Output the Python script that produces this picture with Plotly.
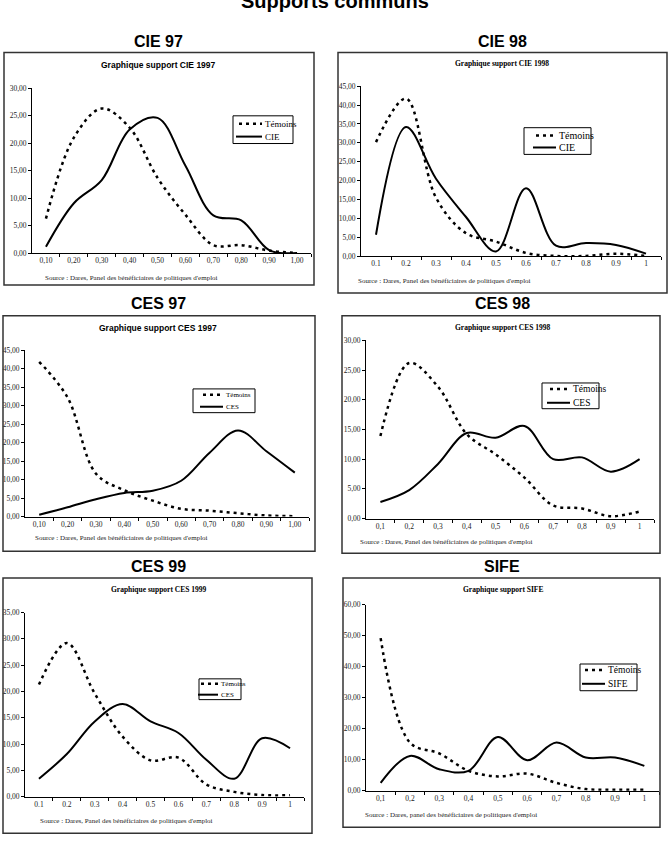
import plotly.graph_objects as go

W, H = 669, 858

# ---------------- data ----------------
categories = [0.1, 0.2, 0.3, 0.4, 0.5, 0.6, 0.7, 0.8, 0.9, 1.0]
labels_comma2 = ["0,10", "0,20", "0,30", "0,40", "0,50", "0,60", "0,70", "0,80", "0,90", "1,00"]
labels_dot1 = ["0.1", "0.2", "0.3", "0.4", "0.5", "0.6", "0.7", "0.8", "0.9", "1"]
labels_comma1 = ["0,1", "0,2", "0,3", "0,4", "0,5", "0,6", "0,7", "0,8", "0,9", "1"]

cie97_temoins = [6.3, 21.0, 26.3, 22.8, 13.7, 7.0, 1.5, 1.5, 0.5, 0.05]
cie97_cie = [1.2, 9.1, 13.3, 22.5, 24.6, 15.9, 6.9, 6.0, 0.6, 0.05]

cie98_temoins = [30.2, 41.7, 15.5, 6.1, 3.9, 0.9, 0.1, 0.1, 0.7, 0.1]
cie98_cie = [5.7, 34.2, 20.5, 10.4, 1.3, 18.0, 2.8, 3.5, 3.0, 0.7]

ces97_temoins = [41.9, 32.2, 11.6, 7.1, 4.3, 2.1, 1.6, 0.9, 0.3, 0.1]
ces97_ces = [0.5, 2.5, 4.7, 6.4, 7.0, 9.7, 17.3, 23.3, 17.7, 11.9]

ces98_temoins = [13.9, 26.2, 22.2, 14.2, 10.8, 6.9, 2.2, 1.7, 0.4, 1.2]
ces98_ces = [2.8, 4.8, 9.2, 14.4, 13.6, 15.6, 10.0, 10.3, 7.9, 10.0]

ces99_temoins = [21.3, 29.2, 19.6, 11.4, 6.9, 7.4, 2.3, 0.9, 0.3, 0.25]
ces99_ces = [3.4, 8.1, 14.3, 17.6, 14.3, 12.1, 7.0, 3.4, 11.1, 9.2]

sife_temoins = [49.2, 15.5, 12.0, 6.4, 4.6, 5.5, 2.5, 0.5, 0.3, 0.3]
sife_sife = [2.5, 11.2, 6.9, 6.4, 17.3, 9.8, 15.5, 10.7, 10.7, 8.0]

panels = [
    dict(title="CIE 97", sub="Graphique support CIE 1997", name="CIE",
         tem=cie97_temoins, prog=cie97_cie, ticks=labels_comma2, ymax=30, dy=5,
         plot=(32, 311, 85, 252), box=(4, 314, 49, 284), tpos=(158, 38),
         subpos=(158, 62), subfont=("Liberation Sans Narrow, Liberation Sans", 8.5),
         src="Source : Dares, Panel des bénéficiaires de politiques d'emploi", srcpos=(43, 277),
         leg=(233, 293, 113, 141), rows=(121, 134), samp=(239, 262), lfs=9),
    dict(title="CIE 98", sub="Graphique support CIE 1998", name="CIE",
         tem=cie98_temoins, prog=cie98_cie, ticks=labels_dot1, ymax=45, dy=5,
         plot=(361, 661, 83, 255), box=(338, 667, 49, 292), tpos=(502, 38),
         subpos=(502, 60), subfont=("Liberation Serif", 7.5),
         src="Source : Dares, Panel des bénéficiaires de politiques d'emploi", srcpos=(356, 280),
         leg=(524, 591, 125, 152), rows=(133, 145), samp=(536, 556), lfs=10),
    dict(title="CES 97", sub="Graphique support CES 1997", name="CES",
         tem=ces97_temoins, prog=ces97_ces, ticks=labels_comma2, ymax=45, dy=5,
         plot=(25, 309, 350, 518), box=(3, 315, 315, 553), tpos=(158, 303),
         subpos=(158, 327), subfont=("Liberation Sans Narrow, Liberation Sans", 8.5),
         src="Source : Dares, Panel des bénéficiaires de politiques d'emploi", srcpos=(33, 540),
         leg=(193, 255, 389, 413), rows=(395, 407), samp=(203, 223), lfs=7),
    dict(title="CES 98", sub="Graphique support CES 1998", name="CES",
         tem=ces98_temoins, prog=ces98_ces, ticks=labels_comma1, ymax=30, dy=5,
         plot=(366, 654, 340, 520), box=(342, 660, 315, 555), tpos=(502, 303),
         subpos=(502, 327), subfont=("Liberation Serif", 7.5),
         src="Source : Dares, Panel des bénéficiaires de politiques d'emploi", srcpos=(358, 544),
         leg=(542, 599, 383, 409), rows=(389, 403), samp=(550, 570), lfs=9.5),
    dict(title="CES 99", sub="Graphique support CES 1999", name="CES",
         tem=ces99_temoins, prog=ces99_ces, ticks=labels_dot1, ymax=35, dy=5,
         plot=(25, 304, 615, 801), box=(3, 312, 580, 838), tpos=(158, 568),
         subpos=(158, 592), subfont=("Liberation Serif", 7.5),
         src="Source : Dares, Panel des bénéficiaires de politiques d'emploi", srcpos=(38, 826),
         leg=(199, 241, 682, 703), rows=(687, 698), samp=(201, 218), lfs=7),
    dict(title="SIFE", sub="Graphique support SIFE", name="SIFE",
         tem=sife_temoins, prog=sife_sife, ticks=labels_comma1, ymax=60, dy=10,
         plot=(366, 659, 607, 795), box=(343, 660, 580, 832), tpos=(502, 568),
         subpos=(503, 592), subfont=("Liberation Serif", 7.5),
         src="Source : Dares, panel des bénéficiaires de politiques d'emploi", srcpos=(363, 820),
         leg=(580, 637, 667, 694), rows=(673, 687), samp=(585, 605), lfs=9.5),
]


def px(x):
    return x / W


def py(y):
    return 1 - y / H


fig = go.Figure()
shapes = []
annotations = []
layout = dict(
    width=W, height=H, autosize=False,
    margin=dict(l=0, r=0, t=0, b=0),
    paper_bgcolor="white", plot_bgcolor="white",
    separators=",.", showlegend=False,
    font=dict(family="Liberation Serif", color="black"),
)

SERIF = "Liberation Serif"
TEM_DASH = "3px,4px"

for i, p in enumerate(panels, start=1):
    xa = "x" if i == 1 else f"x{i}"
    ya = "y" if i == 1 else f"y{i}"
    x0, x1, ytop, ybot = p["plot"]
    fig.add_trace(go.Scatter(
        x=categories, y=p["tem"], mode="lines", name="Témoins",
        line=dict(color="black", width=2.5, dash=TEM_DASH, shape="spline", smoothing=1),
        xaxis=xa, yaxis=ya, hoverinfo="skip"))
    fig.add_trace(go.Scatter(
        x=categories, y=p["prog"], mode="lines", name=p["name"],
        line=dict(color="black", width=2, shape="spline", smoothing=1),
        xaxis=xa, yaxis=ya, hoverinfo="skip"))

    layout[f"xaxis{i if i > 1 else ''}"] = dict(
        domain=[px(x0), px(x1)], anchor=ya, range=[0.05, 1.05],
        tickmode="array", tickvals=categories, ticktext=p["ticks"],
        ticks="", showline=True, linecolor="black", linewidth=1,
        showgrid=False, zeroline=False, fixedrange=True,
        tickfont=dict(family=SERIF, size=7.5, color="#222"),
        minor=dict(tickmode="array", tickvals=[0.15 + 0.1 * k for k in range(10)],
                   ticks="outside", ticklen=3, tickcolor="black", tickwidth=1, showgrid=False),
    )
    layout[f"yaxis{i if i > 1 else ''}"] = dict(
        domain=[py(ybot), py(ytop)], anchor=xa, range=[0, p["ymax"]],
        tickmode="linear", tick0=0, dtick=p["dy"], tickformat=".2f",
        ticks="outside", ticklen=3, tickcolor="black",
        showline=True, linecolor="black", linewidth=1,
        showgrid=False, zeroline=False, fixedrange=True,
        tickfont=dict(family=SERIF, size=7.5, color="#222"),
    )

    # frame around the chart
    bx0, bx1, by0, by1 = p["box"]
    shapes.append(dict(type="rect", xref="paper", yref="paper",
                       x0=px(bx0), x1=px(bx1), y0=py(by1), y1=py(by0),
                       line=dict(color="#333", width=1.5)))
    # big titles
    annotations.append(dict(text=f"<b>{p['title']}</b>", xref="paper", yref="paper",
                            x=px(p["tpos"][0]), y=py(p["tpos"][1]), xanchor="center", yanchor="middle",
                            showarrow=False, font=dict(family="Liberation Sans", size=16, color="black")))
    # inner chart title
    annotations.append(dict(text=f"<b>{p['sub']}</b>", xref="paper", yref="paper",
                            x=px(p["subpos"][0]), y=py(p["subpos"][1]), xanchor="center", yanchor="middle",
                            showarrow=False, font=dict(family=p["subfont"][0], size=p["subfont"][1], color="black")))
    # source
    annotations.append(dict(text=p["src"], xref="paper", yref="paper",
                            x=px(p["srcpos"][0]), y=py(p["srcpos"][1]), xanchor="left", yanchor="middle",
                            showarrow=False, font=dict(family=SERIF, size=7, color="#222")))
    # legend box
    lx0, lx1, ly0, ly1 = p["leg"]
    shapes.append(dict(type="rect", xref="paper", yref="paper",
                       x0=px(lx0), x1=px(lx1), y0=py(ly1), y1=py(ly0),
                       line=dict(color="black", width=1), fillcolor="white", layer="above"))
    s0, s1 = p["samp"]
    r0, r1 = p["rows"]
    shapes.append(dict(type="line", xref="paper", yref="paper",
                       x0=px(s0), x1=px(s1), y0=py(r0), y1=py(r0),
                       line=dict(color="black", width=2.5, dash=TEM_DASH), layer="above"))
    shapes.append(dict(type="line", xref="paper", yref="paper",
                       x0=px(s0 - 3), x1=px(s1), y0=py(r1), y1=py(r1),
                       line=dict(color="black", width=2), layer="above"))
    for txt, r in (("Témoins", r0), (p["name"], r1)):
        annotations.append(dict(text=txt, xref="paper", yref="paper",
                                x=px(s1 + 1), y=py(r), xanchor="left", yanchor="middle",
                                showarrow=False, font=dict(family=SERIF, size=p["lfs"], color="black")))

# page title (partly cut at the top of the page)
annotations.append(dict(text="<b>Supports communs</b>", xref="paper", yref="paper",
                        x=0.5, y=py(-3), xanchor="center", yanchor="middle",
                        showarrow=False, font=dict(family="Liberation Sans", size=20, color="black")))

layout["shapes"] = shapes
layout["annotations"] = annotations
fig.update_layout(**layout)

fig.write_html("out.html")
